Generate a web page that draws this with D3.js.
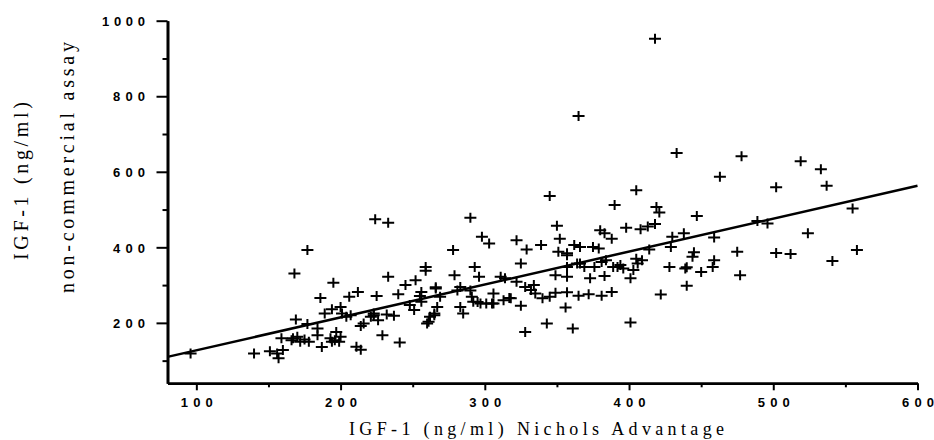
<!DOCTYPE html>
<html>
<head>
<meta charset="utf-8">
<script src="https://cdn.jsdelivr.net/npm/d3@7"></script>
<style>
    body { margin: 0; background: #fff; }
    svg { display: block; }
    .tickLabel { font-family: "Liberation Sans", Arial, sans-serif; font-weight: bold; font-size: 13px; fill: #000; }
    .axisTitle { font-family: "Liberation Serif", "Times New Roman", serif; fill: #000; }
</style>
</head>
<body>
<div class="scatterChart"></div>
<script>
// IGF-1 Nichols Advantage (x) vs non-commercial assay (y), ng/ml
const nicholsValues = [
    418, 365, 433, 478, 519, 533, 463, 502, 537, 405, 345, 390, 555, 419, 421, 290, 447, 350, 398, 408,
    413, 418, 489, 496, 380, 383, 388, 298, 303, 322, 329, 339, 352, 351, 357, 362, 366, 375, 379, 278,
    430, 438, 429, 459, 414, 445, 444, 440, 439, 475, 502, 512, 524, 558, 541, 459, 458, 450, 477, 428,
    440, 422, 401, 328, 343, 361, 356, 325, 388, 381, 372, 365, 357, 349, 401, 403, 406, 409,
    224, 233, 177, 168, 195, 233, 259, 259, 252, 245, 266, 212, 206, 186, 225, 240, 256, 255, 169, 177,
    189, 194, 200, 201, 204, 207, 214, 216, 221, 223, 226, 223, 232, 237, 229, 241, 248, 251, 260, 262,
    265, 267, 159, 166, 172, 175, 170, 184, 184, 187, 193, 197, 200, 194, 199, 211, 214, 140, 151, 156,
    157, 160, 96, 167, 196, 178,
    266, 269, 256, 265, 261, 279, 283, 281, 283, 285, 290, 291, 293, 296, 292, 297, 306, 305, 311, 314,
    317, 322, 328, 332, 334, 325, 335, 340, 345, 349, 357, 357, 364, 369, 376, 381, 384, 373, 383, 389,
    394, 396, 366, 392, 405, 357, 313, 318, 295, 301, 306
];
const inHouseValues = [
    952, 748, 650, 641, 628, 607, 587, 559, 563, 551, 536, 512, 503, 507, 492, 478, 483, 457, 452, 448,
    455, 462, 470, 463, 445, 437, 423, 428, 410, 419, 394, 406, 423, 388, 379, 406, 401, 401, 397, 393,
    428, 437, 401, 426, 394, 387, 375, 347, 344, 388, 385, 382, 437, 393, 364, 366, 348, 335, 326, 348,
    298, 275, 201, 176, 198, 185, 241, 245, 282, 272, 276, 272, 281, 280, 318, 340, 357, 366,
    474, 465, 393, 331, 306, 322, 348, 338, 313, 300, 294, 282, 269, 266, 271, 276, 282, 271, 209, 197,
    225, 236, 242, 225, 216, 220, 192, 198, 216, 225, 207, 220, 222, 219, 167, 148, 247, 234, 198, 216,
    225, 242, 159, 154, 150, 156, 163, 185, 167, 136, 159, 176, 163, 150, 150, 137, 129, 119, 125, 119,
    106, 128, 119, 159, 154, 150,
    291, 269, 256, 220, 203, 326, 295, 286, 242, 225, 286, 269, 348, 322, 256, 251, 278, 251, 322, 318,
    266, 309, 295, 287, 300, 357, 278, 265, 269, 326, 322, 348, 357, 348, 348, 361, 366, 318, 324, 348,
    353, 344, 357, 348, 370, 384, 260, 265, 255, 251, 251
];

// least-squares fit line, read at the axis ends
const fitX = [80, 600];
const fitY = [110, 563];

// tick values
const xMajorTicks = [100, 200, 300, 400, 500, 600];
const xMinorTicks = [150, 250, 350, 450, 550];
const yMajorTicks = [200, 400, 600, 800, 1000];
const yMinorTicks = [100, 300, 500, 700, 900];

const width = 934, height = 440;

const svg = d3.select(".scatterChart").append("svg")
    .attr("width", width)
    .attr("height", height);

const x = d3.scaleLinear().domain([80, 600]).range([167.5, 917.5]);
const y = d3.scaleLinear().domain([40, 1000]).range([383.3, 20.7]);

// ----- axes -----
function styleAxis(g)
{
    g.selectAll("path, line").attr("stroke", "#000");
    g.select(".domain").attr("stroke-width", 2.6);
    g.selectAll(".tick line").attr("stroke-width", 2);
}

// y axis: minor ticks first, then major ticks with labels
svg.append("g")
    .attr("transform", "translate(" + x.range()[0] + ",0)")
    .call(d3.axisLeft(y).tickValues(yMinorTicks).tickSize(5).tickSizeOuter(0).tickFormat(""))
    .call(styleAxis);

let yAxis = svg.append("g")
    .attr("transform", "translate(" + x.range()[0] + ",0)")
    .call(d3.axisLeft(y).tickValues(yMajorTicks).tickSize(11).tickSizeOuter(0).tickFormat(d3.format("d")))
    .call(styleAxis);

yAxis.selectAll("text")
    .attr("class", "tickLabel")
    .attr("font-family", null).attr("font-size", null)
    .attr("x", -22.5)
    .attr("dy", "0.36em")
    .attr("textLength", d => String(d).length === 4 ? 43 : 32)
    .attr("lengthAdjust", "spacing");

// x axis
svg.append("g")
    .attr("transform", "translate(0," + y.range()[0] + ")")
    .call(d3.axisBottom(x).tickValues(xMinorTicks).tickSize(4).tickSizeOuter(0).tickFormat(""))
    .call(styleAxis);

let xAxis = svg.append("g")
    .attr("transform", "translate(0," + y.range()[0] + ")")
    .call(d3.axisBottom(x).tickValues(xMajorTicks).tickSize(7).tickSizeOuter(0).tickFormat(d3.format("d")))
    .call(styleAxis);

xAxis.selectAll("text")
    .attr("class", "tickLabel")
    .attr("font-family", null).attr("font-size", null)
    .attr("y", 24)
    .attr("dy", 0)
    .attr("textLength", 32)
    .attr("lengthAdjust", "spacing");

// ----- fit line -----
svg.append("line")
    .attr("x1", x(fitX[0])).attr("y1", y(fitY[0]))
    .attr("x2", x(fitX[1])).attr("y2", y(fitY[1]))
    .attr("stroke", "#000")
    .attr("stroke-width", 2.5);

// ----- data points (plus markers) -----
const points = nicholsValues.map((v, i) => ({ x: v, y: inHouseValues[i] }));

svg.append("g")
    .selectAll("path")
    .data(points)
    .enter()
        .append("path")
        .attr("transform", d => "translate(" + x(d.x) + "," + y(d.y) + ")")
        .attr("d", "M-6,0H6M0,-5V5")
        .attr("stroke", "#000")
        .attr("stroke-width", 2)
        .attr("fill", "none");

// ----- axis titles -----
svg.append("text")
    .classed("axisTitle", true)
    .attr("x", 349)
    .attr("y", 435)
    .attr("font-size", 18)
    .attr("textLength", 375)
    .attr("lengthAdjust", "spacing")
    .text("IGF-1 (ng/ml) Nichols Advantage");

svg.append("text")
    .classed("axisTitle", true)
    .attr("transform", "translate(28,181) rotate(-90)")
    .attr("text-anchor", "middle")
    .attr("font-size", 20)
    .attr("textLength", 158)
    .attr("lengthAdjust", "spacing")
    .text("IGF-1 (ng/ml)");

svg.append("text")
    .classed("axisTitle", true)
    .attr("transform", "translate(74,167.5) rotate(-90)")
    .attr("text-anchor", "middle")
    .attr("font-size", 20)
    .attr("textLength", 251)
    .attr("lengthAdjust", "spacing")
    .text("non-commercial assay");
</script>
</body>
</html>
